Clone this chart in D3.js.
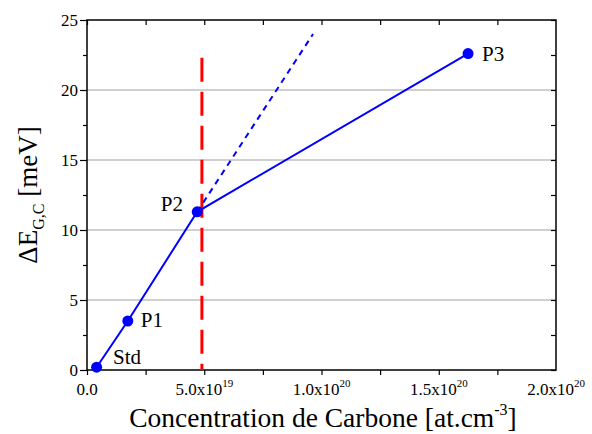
<!DOCTYPE html>
<html><head><meta charset="utf-8">
<script src="https://cdn.jsdelivr.net/npm/d3@7"></script>
<style>body{margin:0;background:#fff}svg{display:block}</style>
</head><body>
<svg id="c" width="592" height="434" font-family="'Liberation Serif', 'DejaVu Serif', serif"></svg>
<script>
// data
const samples = ["Std", "P1", "P2", "P3"];
const conc = [4.1e18, 1.74e19, 4.7e19, 1.625e20];
const deltaE = [0.2, 3.5, 11.3, 22.6];
const extrapX = [4.7e19, 9.64e19];
const extrapY = [11.3, 24.0];
const limitX = 4.9e19;
const limitY = [0, 22.3];
const xTickValues = [0, 5e19, 1e20, 1.5e20, 2e20];
const xTickMant = ["0.0", "5.0x10", "1.0x10", "1.5x10", "2.0x10"];
const xTickExp = ["", "19", "20", "20", "20"];
const yTickValues = [0, 5, 10, 15, 20, 25];

const FONT = "'Liberation Serif', 'DejaVu Serif', serif";
const svg = d3.select("#c");
const m = {l: 87, r: 36, t: 20, b: 64};
const W = 592, H = 434;
const x = d3.scaleLinear().domain([0, 2e20]).range([m.l, W - m.r]);
const y = d3.scaleLinear().domain([0, 25]).range([H - m.b, m.t]);

// grid
svg.append("g").selectAll("line").data([5, 10, 15, 20]).join("line")
  .attr("x1", m.l).attr("x2", W - m.r).attr("y1", d => y(d)).attr("y2", d => y(d))
  .attr("stroke", "#a0a0a0").attr("stroke-width", 1);

// axes
const minorX = d3.range(0, 2e20 + 1, 2.5e19);
const minorY = d3.range(0, 25.01, 2.5);
const gx = svg.append("g").attr("transform", `translate(0,${y(0)})`)
  .call(d3.axisBottom(x).tickValues(minorX).tickSize(5).tickFormat(""));
const gxt = svg.append("g").attr("transform", `translate(0,${y(25)})`)
  .call(d3.axisBottom(x).tickValues(minorX).tickSize(5).tickFormat(""));
const gy = svg.append("g").attr("transform", `translate(${x(0)},0)`)
  .call(d3.axisLeft(y).tickValues(minorY).tickSize(5).tickFormat(""));
const gyr = svg.append("g").attr("transform", `translate(${x(2e20)},0)`)
  .call(d3.axisLeft(y).tickValues(minorY).tickSize(5).tickFormat(""));
gy.selectAll(".tick line").attr("x2", (d) => (d % 5 === 0 ? -7 : -4));
[gx, gxt, gy, gyr].forEach(g => {
  g.select(".domain").remove();
  g.selectAll(".tick line").attr("stroke", "#000").attr("stroke-width", 1.2);
});
svg.append("rect").attr("x", x(0)).attr("y", y(25)).attr("width", x(2e20) - x(0)).attr("height", y(0) - y(25))
  .attr("fill", "none").attr("stroke", "#000").attr("stroke-width", 1.5);

// y tick labels
svg.append("g").selectAll("text").data(yTickValues).join("text")
  .attr("font-family", FONT)
  .attr("x", x(0) - 9).attr("y", d => y(d) + 6).attr("text-anchor", "end")
  .attr("font-size", 17).text(d => d);

// x tick labels
const xl = svg.append("g").selectAll("text").data(xTickValues).join("text")
  .attr("font-family", FONT)
  .attr("x", d => x(d)).attr("y", y(0) + 25).attr("text-anchor", "middle").attr("font-size", 17);
xl.each(function(d, i) {
  const t = d3.select(this);
  t.append("tspan").text(xTickMant[i]);
  if (xTickExp[i]) t.append("tspan").attr("dy", -8).attr("font-size", 11).text(xTickExp[i]);
});

// red limit line
svg.append("line").attr("x1", x(limitX)).attr("x2", x(limitX)).attr("y1", y(limitY[1])).attr("y2", y(limitY[0]))
  .attr("stroke", "#ff0000").attr("stroke-width", 3).attr("stroke-dasharray", "24,10");

// blue dashed extrapolation
svg.append("path").datum(extrapX.map((d, i) => [d, extrapY[i]]))
  .attr("d", d3.line().x(d => x(d[0])).y(d => y(d[1])))
  .attr("fill", "none").attr("stroke", "#0000ff").attr("stroke-width", 2).attr("stroke-dasharray", "6,5");

// blue data line
const pts = conc.map((d, i) => [d, deltaE[i]]);
svg.append("path").datum(pts).attr("d", d3.line().x(d => x(d[0])).y(d => y(d[1])))
  .attr("fill", "none").attr("stroke", "#0000ff").attr("stroke-width", 2);
svg.append("g").selectAll("circle").data(pts).join("circle")
  .attr("cx", d => x(d[0])).attr("cy", d => y(d[1])).attr("r", 5.5).attr("fill", "#0000ff");

// point labels
const lblDx = [16.5, 13, -36.5, 14];
const lblDy = [-3, 6, -1, 7];
svg.append("g").selectAll("text").data(pts).join("text")
  .attr("font-family", FONT)
  .attr("x", (d, i) => x(d[0]) + lblDx[i]).attr("y", (d, i) => y(d[1]) + lblDy[i])
  .attr("font-size", 21).text((d, i) => samples[i]);

// axis titles
const xt = svg.append("text").attr("font-family", FONT)
  .attr("x", 323).attr("y", 427)
  .attr("text-anchor", "middle").attr("font-size", 27.5);
xt.append("tspan").text("Concentration de Carbone [at.cm");
xt.append("tspan").attr("dy", -12).attr("font-size", 16).text("-3");
xt.append("tspan").attr("dy", 12).text("]");

const yt = svg.append("text").attr("font-family", FONT)
  .attr("transform", `translate(37,${(y(0) + y(25)) / 2}) rotate(-90)`)
  .attr("text-anchor", "middle").attr("font-size", 27);
yt.append("tspan").text("ΔE");
yt.append("tspan").attr("dy", 7).attr("font-size", 16).text("G,C");
yt.append("tspan").attr("dy", -7).text(" [meV]");
</script>
</body></html>
